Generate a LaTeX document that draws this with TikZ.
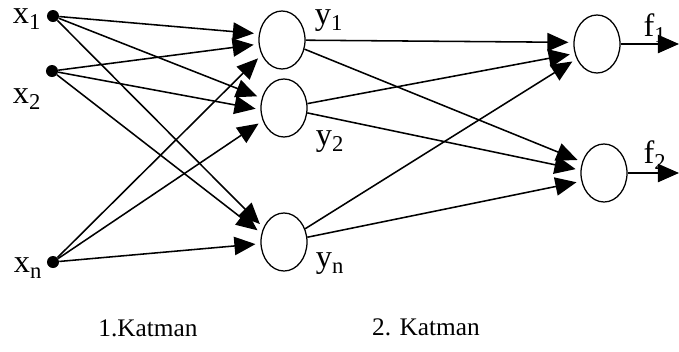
\documentclass[tikz,border=0pt]{standalone}
\usepackage{fontspec}
\setmainfont{Liberation Serif}
\usetikzlibrary{arrows.meta, shapes.geometric}

\begin{document}
\begin{tikzpicture}[x=0.025cm, y=-0.025cm,
		neuron/.style={draw, ellipse, line width=0.9pt, minimum width=1.15cm,
			minimum height=1.45cm, inner sep=0pt},
		inp/.style={circle, fill, inner sep=0pt, minimum size=0.3cm},
		arrow/.style={-{Triangle[length=15pt, width=13pt]}, line width=1.1pt, shorten >=3.5pt},
		var/.style={font=\fontsize{23}{25}\selectfont, inner sep=0pt},
		caption/.style={font=\fontsize{18}{20}\selectfont, inner sep=0pt}
	]
		\useasboundingbox (0,0) rectangle (679,351);

		% inputs
		\node[inp] (x1) at (53,16) {};
		\node[inp] (x2) at (52,71) {};
		\node[inp] (xn) at (53,262) {};
		\node[var] (lx1) at (27,19) {x\textsubscript{1}};
		\node[var] (lx2) at (27,99) {x\textsubscript{2}};
		\node[var] (lxn) at (28,268) {x\textsubscript{n}};

		% first layer
		\node[neuron] (y1) at (282,40) {};
		\node[neuron] (y2) at (284,108) {};
		\node[neuron] (yn) at (284,242) {};
		\node[var] (ly1) at (329,21) {y\textsubscript{1}};
		\node[var] (ly2) at (330,142) {y\textsubscript{2}};
		\node[var] (lyn) at (330,264) {y\textsubscript{n}};

		% second layer
		\node[neuron] (f1) at (597,44) {};
		\node[neuron] (f2) at (604,173) {};
		\node[var] (lf1) at (655,28) {f\textsubscript{1}};
		\node[var] (lf2) at (655,155) {f\textsubscript{2}};
		\coordinate (o1) at (679,44);
		\coordinate (o2) at (679,173);

		\foreach \a/\b in {x1/y1.165,x2/y1.190,xn/y1.216,
			x1/y2.156,x2/y2.184,xn/y2.211,
			x1/yn.145,x2/yn.159,xn/yn.184,
			y1/f1.176,y2/f1.203,yn/f1.216,
			y1/f2.153,y2/f2.173,yn/f2.200}
			\draw[arrow] (\a) -- (\b);
		\draw[arrow, shorten >=0pt] (f1) -- (o1);
		\draw[arrow, shorten >=0pt] (f2) -- (o2);

		\node[caption] (k1) at (148,328) {1.Katman};
		\node[caption] (k2) at (426,327) {2. Katman};
	\end{tikzpicture}
\end{document}
